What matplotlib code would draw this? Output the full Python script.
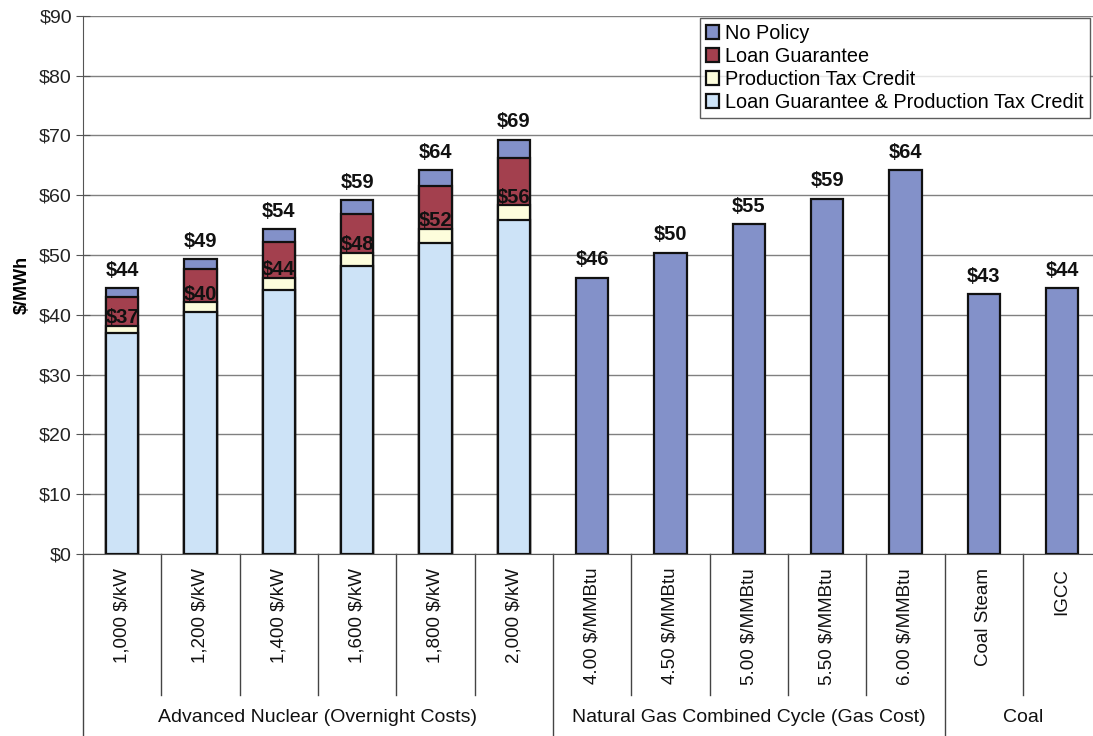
import numpy as np
import matplotlib.pyplot as plt
from matplotlib.transforms import blended_transform_factory

plt.rcParams['font.family'] = ['Liberation Sans', 'DejaVu Sans']

# categories along the x axis
categories = ['1,000 $/kW', '1,200 $/kW', '1,400 $/kW', '1,600 $/kW', '1,800 $/kW', '2,000 $/kW',
              '4.00 $/MMBtu', '4.50 $/MMBtu', '5.00 $/MMBtu', '5.50 $/MMBtu', '6.00 $/MMBtu',
              'Coal Steam', 'IGCC']
groups = ['Advanced Nuclear (Overnight Costs)', 'Natural Gas Combined Cycle (Gas Cost)', 'Coal']
group_sizes = [6, 5, 2]

# levelized cost, $/MWh
no_policy = [44.4, 49.3, 54.3, 59.2, 64.2, 69.3,
             46.2, 50.4, 55.1, 59.4, 64.2,
             43.4, 44.4]
loan_guarantee = [42.9, 47.6, 52.1, 56.8, 61.5, 66.2]
prod_tax_credit = [38.2, 42.1, 46.2, 50.4, 54.4, 58.3]
lg_and_ptc = [36.9, 40.4, 44.2, 48.1, 52.0, 55.9]

series_names = ['No Policy', 'Loan Guarantee', 'Production Tax Credit',
                'Loan Guarantee & Production Tax Credit']
colors = ['#8391c9', '#a3404e', '#fdfddc', '#cde3f7']

W, H = 1093, 736
fig = plt.figure(figsize=(W / 100, H / 100), dpi=100)
ax_left, ax_bottom, ax_top = 83, 554, 15.7
cat_w = 78.33
ax = fig.add_axes([ax_left / W, 1 - ax_bottom / H,
                   len(categories) * cat_w / W, (ax_bottom - ax_top) / H])

x = np.arange(len(categories))
xn = np.arange(len(lg_and_ptc))
bw = 0.41
edge = dict(edgecolor='#111111', linewidth=1.6, zorder=3)

# overlapping bars, tallest drawn first
ax.bar(x, no_policy, bw, color=colors[0], label=series_names[0], **edge)
ax.bar(xn, loan_guarantee, bw, color=colors[1], label=series_names[1], **edge)
ax.bar(xn, prod_tax_credit, bw, color=colors[2], label=series_names[2], **edge)
ax.bar(xn, lg_and_ptc, bw, color=colors[3], label=series_names[3], **edge)

for xi, v in zip(x, no_policy):
    ax.annotate(f'${v:.0f}', (xi, v), xytext=(0, 6), textcoords='offset points',
                ha='center', va='bottom', fontsize=14.5, fontweight='bold', color='#111111')
for xi, v, top in zip(xn, lg_and_ptc, prod_tax_credit):
    ax.annotate(f'${v:.0f}', (xi, top), xytext=(0, -1), textcoords='offset points',
                ha='center', va='bottom', fontsize=14.5, fontweight='bold', color='#111111',
                zorder=5)

ax.set_xlim(-0.5, len(categories) - 0.5)
ax.set_ylim(0, 90)
ax.set_yticks(np.arange(0, 91, 10))
ax.set_yticklabels([f'${v}' for v in range(0, 91, 10)], fontsize=14, color='#222222')
ax.yaxis.grid(True, color='#808080', linewidth=1.0)
ax.set_axisbelow(True)
ax.tick_params(axis='y', direction='inout', length=10, color='#555555', pad=3)
ax.tick_params(axis='x', length=0, labelbottom=False)
for s in ['top', 'right']:
    ax.spines[s].set_visible(False)
ax.spines['left'].set_color('#555555')
ax.spines['bottom'].set_color('#555555')
ax.set_ylabel('$/MWh', fontsize=13, fontweight='bold', labelpad=6)

# two-level category axis
trans = blended_transform_factory(ax.transData, ax.transAxes)
ax_h = ax_bottom - ax_top
short = -(695 - ax_bottom) / ax_h
long_ = -(740 - ax_bottom) / ax_h
label_y = -(14) / ax_h
group_y = -(718 - ax_bottom) / ax_h

for xi, name in zip(x, categories):
    ax.text(xi, label_y, name, transform=trans, rotation=90, ha='center', va='top',
            fontsize=13.5, color='#111111')

edges = np.cumsum([0] + group_sizes) - 0.5
for xs in np.arange(-0.5, len(categories)):
    y_end = long_ if np.isclose(edges, xs).any() else short
    ax.plot([xs, xs], [0, y_end], transform=trans, color='#444444', linewidth=1.0,
            clip_on=False)
for g, lo, hi in zip(groups, edges[:-1], edges[1:]):
    ax.text((lo + hi) / 2, group_y, g, transform=trans, ha='center', va='center',
            fontsize=14, color='#111111')

leg = ax.legend(loc='upper right', bbox_to_anchor=(1090 / W, 1 - 18 / H),
                bbox_transform=fig.transFigure, fontsize=14.3, frameon=True,
                fancybox=False, handlelength=0.7, handleheight=0.7,
                handletextpad=0.3, labelspacing=0.2, borderpad=0.3,
                borderaxespad=0)
leg.get_frame().set_edgecolor('#333333')
leg.get_frame().set_linewidth(1.0)

fig.savefig('out.png', dpi=100)
